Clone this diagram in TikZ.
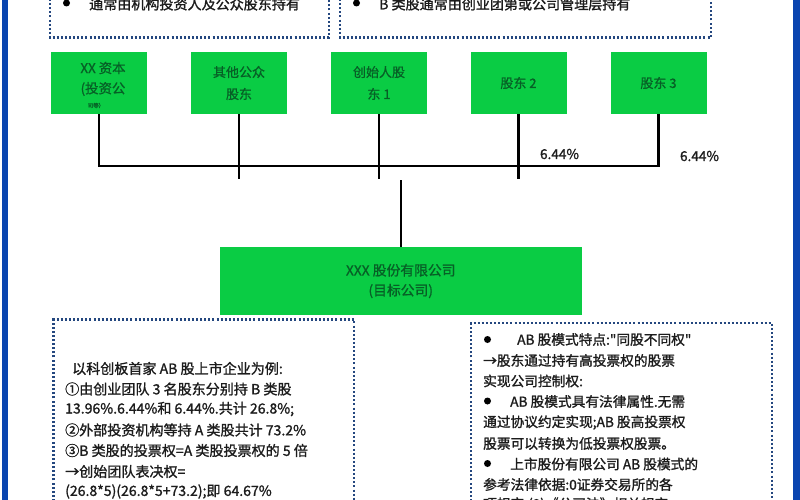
\documentclass[tikz,border=0pt]{standalone}
\usepackage{fontspec}
\setmainfont{Noto Sans CJK SC}
\newfontfamily\inkfont[FakeBold=1.3]{Noto Sans CJK SC}
\newfontfamily\boxfont[FakeBold=0.9]{Noto Sans CJK SC}
\definecolor{gbox}{HTML}{0ACC44}
\definecolor{gtext}{HTML}{075F26}
\definecolor{dotc}{HTML}{24477F}
\definecolor{barc}{HTML}{0A45B0}
\definecolor{ink}{HTML}{1C1C1C}
\tikzset{
  x=1pt,y=-1pt,
  holder/.style={fill=gbox,draw=none,minimum width=96pt,minimum height=62pt,inner sep=0pt,text=gtext,font=\boxfont\fontsize{13}{22}\selectfont,align=center},
  target/.style={fill=gbox,draw=none,minimum width=362.5pt,minimum height=68pt,inner sep=0pt,text=gtext,font=\boxfont\fontsize{13.8}{20}\selectfont,align=center},
  link/.style={draw=black,line width=2.3pt},
  dotbox/.style={draw=dotc,line width=2.1pt,dash pattern=on 2pt off 2.1pt},
  txt/.style={anchor=west,inner sep=0pt,text=ink,font=\inkfont\fontsize{14.05}{14}\selectfont},
  rtxt/.style={txt,font=\inkfont\fontsize{13.7}{14}\selectfont},
  bul/.style={circle,fill=black,inner sep=0pt,minimum size=7pt},
  pct/.style={inner sep=0pt,text=ink,font=\inkfont\fontsize{13.6}{14}\selectfont},
  hline/.style={inner sep=0pt,text=gtext,font=\boxfont\fontsize{13.4}{14}\selectfont}
}
\begin{document}
\begin{tikzpicture}
\useasboundingbox (0,0) rectangle (800,500);
\clip (0,0) rectangle (800,500);
\fill[white] (0,0) rectangle (800,500);
% side bars
\fill[barc] (2,0) rectangle (7.5,500);
\fill[barc] (793,0) rectangle (800,500);
% dotted boxes
\draw[dotbox] (50,-5) -- (50,37.5) -- (329,37.5) -- (329,-5);
\draw[dotbox] (340,-5) -- (340,37.5) -- (711,37.5) -- (711,-5);
\draw[dotbox] (53.5,505) -- (53.5,319.5) -- (354,319.5) -- (354,505);
\draw[dotbox] (471,505) -- (471,323) -- (772,323) -- (772,505);
% top box text
\node[bul] (tb1) at (66.5,3) {};
\node[txt] (tt1) at (89,4) {通常由机构投资人及公众股东持有};
\node[bul] (tb2) at (356.5,3) {};
\node[txt] (tt2) at (379,4) {B 类股通常由创业团第或公司管理层持有};
% holders
\node[holder] (h1) at (99,83) {};
\node[hline] (h1a) at (103,68) {XX 资本};
\node[hline] (h1b) at (103,89) {(投资公};
\node[hline,font=\boxfont\fontsize{5.5}{6}\selectfont] (h1c) at (96,105.5) {司等）};
\node[holder] (h2) at (239,83) {其他公众\\股东};
\node[holder] (h3) at (379,83) {创始人股\\东 1};
\node[holder] (h4) at (518.5,83) {股东 2};
\node[holder] (h5) at (658.5,83) {股东 3};
\node[target] (t) at (400.75,281) {XXX 股份有限公司\\(目标公司)};
% connectors
\coordinate (b2) at (239,179);
\coordinate (b3) at (379,179);
\coordinate (b4) at (518.5,179);
\coordinate (top) at (401,180);
\draw[link] (h1.south) -- (99,166) -- (658.5,166) -- (h5.south);
\draw[link] (h2.south) -- (b2);
\draw[link] (h3.south) -- (b3);
\draw[link] (h4.south) -- (b4);
\draw[link] (top) -- (t.north -| top);
\node[pct] (p1) at (559.5,154) {6.44\%};
\node[pct] (p2) at (699.5,156) {6.44\%};
% left text
\node[txt] (l1) at (72,368.5) {以科创板首家 AB 股上市企业为例:};
\node[txt] (l2) at (65,389) {①由创业团队 3 名股东分别持 B 类股};
\node[txt] (l3) at (65,409) {13.96\%.6.44\%和 6.44\%.共计 26.8\%;};
\node[txt] (l4) at (65,430) {②外部投资机构等持 A 类股共计 73.2\%};
\node[txt] (l5) at (65,450.5) {③B 类股的投票权=A 类股投票权的 5 倍};
\node[txt] (l6) at (65,471.5) {→创始团队表决权=};
\node[txt] (l7) at (65,491.5) {(26.8*5)(26.8*5+73.2);即 64.67\%};
% right text
\node[bul] (rb1) at (487.5,339.5) {};
\node[rtxt] (r1) at (517,339.5) {AB 股模式特点:"同股不同权"};
\node[rtxt] (r2) at (483,360.5) {→股东通过持有高投票权的股票};
\node[rtxt] (r3) at (483,381) {实现公司控制权:};
\node[bul] (rb2) at (487.5,401) {};
\node[rtxt] (r4) at (510,401.5) {AB 股模式具有法律属性.无需};
\node[rtxt] (r5) at (483,422.5) {通过协议约定实现;AB 股高投票权};
\node[rtxt] (r6) at (483,443.5) {股票可以转换为低投票权股票。};
\node[bul] (rb3) at (487.5,463.5) {};
\node[rtxt] (r7) at (510,464) {上市股份有限公司 AB 股模式的};
\node[rtxt] (r8) at (483,484.5) {参考法律依据:0证券交易所的各};
\node[rtxt] (r9) at (483,504.5) {项规定;(2)《公司法》相关规定};
\end{tikzpicture}
\end{document}
